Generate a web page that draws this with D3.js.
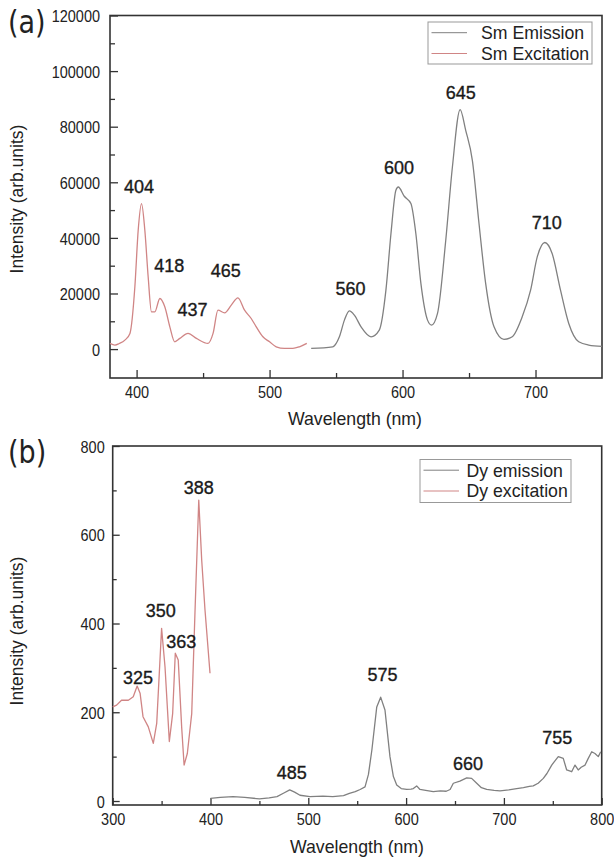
<!DOCTYPE html>
<html>
<head>
<meta charset="utf-8">
<script src="https://cdn.jsdelivr.net/npm/d3@7/dist/d3.min.js"></script>
<style>
body { margin: 0; background: #fff; }
text { font-family: "Liberation Sans", Arial, sans-serif; fill: #222; }
</style>
</head>
<body>
<svg id="chart" width="614" height="858"></svg>
<script>
// (a) Sm spectra
var smExWl = [380, 383.7, 387, 391.2, 395, 398.7, 401.2, 403.7, 406.2, 408.7, 411.2, 413.7, 417.5, 421.2, 425, 428.7,
              432.5, 438.7, 445, 453.7, 457.5, 461.2, 466.2, 471.2, 476.2, 481.2, 486.2, 490, 495, 500, 505, 511.2,
              517.5, 522.5, 528];
var smExI = [2050, 1440, 2000, 3230, 5640, 22400, 42760, 52350, 42760, 26000, 13400, 13400, 18200, 15200, 8000, 2620,
             3840, 5640, 3840, 2050, 5640, 14000, 13050, 15800, 18430, 14000, 11000, 8000, 4420, 2620, 830, 250,
             250, 830, 2050];
var smEmWl = [531.3, 547.5, 552.5, 556.3, 560, 563.8, 568.8, 576.3, 582.5, 587.5, 591.3, 595, 596.8, 601.3, 606.3, 610,
              613.8, 618.8, 621.8, 626.3, 632.5, 637.5, 643.3, 647.5, 652.5, 657.5, 662.5, 668.8, 676.3, 682.5, 690,
              696.3, 701.3, 707, 712.5, 718.8, 725, 732.5, 740, 750];
var smEmI = [250, 830, 4420, 10420, 13760, 12200, 8000, 4420, 6830, 21200, 41570, 57130, 58300, 54980, 52350, 41570,
             23610, 10420, 8620, 12830, 39170, 65500, 86130, 78690, 67910, 45170, 23610, 8000, 3480, 4420, 11600,
             21200, 33160, 38340, 34390, 21200, 9230, 2620, 1440, 1000];
var smPeakText = ["404", "418", "437", "465", "560", "600", "645", "710"];
var smPeakWl = [401.9, 424.6, 442.1, 467.1, 560.8, 597.3, 643.8, 708.5];
var smPeakI = [56170, 27780, 11970, 25760, 19400, 63130, 90080, 43370];
var smXTicks = [400, 500, 600, 700], smXMinor = [450, 550, 650];
var smYTicks = [0, 20000, 40000, 60000, 80000, 100000, 120000];
var smYMinor = [10000, 30000, 50000, 70000, 90000, 110000];

// (b) Dy spectra
var dyExWl = [300, 304, 309, 316, 321, 325, 328, 331, 336.4, 341.5, 345, 350, 353.5, 357.9, 361.3, 364, 367, 370.5,
              373, 376.3, 380.8, 384.2, 388, 391, 394.4, 399.5];
var dyExI = [212, 216, 227, 227, 235, 259, 243, 190, 167, 130, 175, 389, 302, 134, 197, 333, 318, 167,
             81, 107, 197, 430, 678, 543, 430, 288];
var dyEmWl = [400, 410, 423, 435, 450, 460, 468, 475, 481, 486, 491.5, 501.7, 515, 525, 536, 542, 548, 553, 558,
              561.5, 565, 570, 574, 578.4, 583.5, 587, 590.4, 595, 600.6, 605, 607.4, 610.8, 614.2, 620, 627.8, 635,
              641, 645, 648.3, 655, 662, 667, 672.2, 677, 682.4, 690, 696, 705, 713, 720, 726, 730, 735, 740.3,
              744, 748.9, 752, 755.6, 760.7, 764.2, 769.3, 772.7, 776, 779, 783, 786, 789.8, 793.1, 796.5, 799];
var dyEmI = [6, 8, 10, 8, 5, 7, 10, 18, 25, 20, 13, 10, 11, 10, 12, 17, 21, 26, 32,
             60, 115, 212, 234, 205, 100, 55, 36, 28, 26, 27, 28, 34, 26, 24, 21, 23,
             22, 26, 40, 45, 52, 51, 40, 30, 26, 24, 23, 25, 28, 30, 33, 34, 40, 51,
             62, 81, 90, 100, 96, 70, 66, 81, 70, 76, 81, 95, 111, 107, 100, 111];
var dyPeakText = ["325", "350", "363", "388", "485", "575", "660", "755"];
var dyPeakWl = [325.9, 349.2, 370.2, 387.9, 483, 575.9, 663.3, 754.5];
var dyPeakI = [263, 415, 344, 691, 49, 271, 70, 128];
var dyXTicks = [300, 400, 500, 600, 700, 800], dyXMinor = [350, 450, 550, 650, 750];
var dyYTicks = [0, 200, 400, 600, 800], dyYMinor = [100, 300, 500, 700];

var emColor = "#808080", exColor = "#d08585";

var svg = d3.select("#chart");

function drawPanel(p) {
    var x = d3.scaleLinear().domain(p.xDomain).range([p.left, p.right]);
    var y = d3.scaleLinear().domain(p.yDomain).range([p.bottom, p.top]);
    var g = svg.append("g");

    // ticks (pointing inward)
    var xAxis = g.append("g").attr("transform", "translate(0," + p.bottom + ")")
        .call(d3.axisBottom(x).tickValues(p.xTicks).tickSize(-p.major).tickSizeOuter(0).tickFormat(d3.format("d")));
    xAxis.selectAll("text")
        .attr("x", 0).attr("y", 0).attr("dy", null)
        .attr("transform", "translate(0,19.5) scale(1,1.18)")
        .style("font-size", "14.5px");
    g.append("g").attr("transform", "translate(0," + p.bottom + ")")
        .call(d3.axisBottom(x).tickValues(p.xMinor).tickSize(-p.minor).tickSizeOuter(0).tickFormat(""));

    var yAxis = g.append("g").attr("transform", "translate(" + p.left + ",0)")
        .call(d3.axisLeft(y).tickValues(p.yTicks).tickSize(-p.major).tickSizeOuter(0).tickFormat(d3.format("d")));
    yAxis.selectAll("text")
        .attr("x", 0).attr("y", 0).attr("dy", "0.36em")
        .attr("transform", "translate(" + (-p.labelGap) + ",0) scale(1,1.18)")
        .style("font-size", "14.5px");
    g.append("g").attr("transform", "translate(" + p.left + ",0)")
        .call(d3.axisLeft(y).tickValues(p.yMinor).tickSize(-p.minor).tickSizeOuter(0).tickFormat(""));

    g.selectAll(".domain").remove();
    g.selectAll(".tick line").attr("stroke", "#333").attr("stroke-width", 1.3);
    g.selectAll(".tick text").attr("fill", "#333");

    // frame
    g.append("rect")
        .attr("x", p.left).attr("y", p.top)
        .attr("width", p.right - p.left).attr("height", p.bottom - p.top)
        .attr("fill", "none").attr("stroke", "#333").attr("stroke-width", 1.6);

    // curves
    p.series.forEach(function(s) {
        var line = d3.line()
            .x(function(d) { return x(d[0]); })
            .y(function(d) { return y(d[1]); })
            .curve(s.curve);
        g.append("path")
            .datum(d3.zip(s.wl, s.val))
            .attr("d", line)
            .attr("fill", "none")
            .attr("stroke", s.color)
            .attr("stroke-width", 1.3)
            .attr("stroke-linejoin", "round");
    });

    // peak labels
    g.selectAll(".peak")
        .data(p.peakText)
        .enter().append("text")
        .attr("class", "peak")
        .attr("x", function(d, i) { return x(p.peakWl[i]); })
        .attr("y", function(d, i) { return y(p.peakI[i]); })
        .attr("text-anchor", "middle")
        .attr("stroke", "#1a1a1a").attr("stroke-width", 0.35)
        .style("fill", "#1a1a1a")
        .style("font-size", "18px")
        .text(function(d) { return d; });

    // legend
    var lg = g.append("g");
    lg.append("rect")
        .attr("x", p.legend.x).attr("y", p.legend.y)
        .attr("width", p.legend.w).attr("height", p.legend.h)
        .attr("fill", "#fff").attr("stroke", "#999").attr("stroke-width", 1);
    p.series.forEach(function(s, i) {
        var ly = p.legend.y + 10.7 + i * 20.8;
        lg.append("line")
            .attr("x1", p.legend.x + 3.5).attr("x2", p.legend.x + 39)
            .attr("y1", ly).attr("y2", ly)
            .attr("stroke", s.color).attr("stroke-width", 1);
        lg.append("text")
            .attr("x", p.legend.x + p.legend.textOff).attr("y", ly)
            .attr("dy", "0.36em")
            .style("font-size", "17.7px")
            .text(s.name);
    });

    // axis titles
    g.append("text")
        .attr("transform", "translate(23," + p.yTitleY + ") rotate(-90)")
        .attr("text-anchor", "middle")
        .style("font-size", "17.5px")
        .text("Intensity (arb.units)");
    g.append("text")
        .attr("x", p.xTitleX).attr("y", p.xTitleY)
        .attr("text-anchor", "middle")
        .style("font-size", "17.7px")
        .text("Wavelength (nm)");

    // panel tag
    g.append("text")
        .attr("transform", "translate(8," + p.tagY + ") scale(1,1.15)")
        .style("font-family", "'DejaVu Sans', sans-serif")
        .style("font-size", "27px")
        .text(p.tag);
}

drawPanel({
    tag: "(a)", tagY: 33,
    left: 110, right: 602, top: 15.5, bottom: 378,
    xDomain: [380, 750], yDomain: [-10400, 120000],
    xTicks: smXTicks, xMinor: smXMinor, yTicks: smYTicks, yMinor: smYMinor,
    major: 8, minor: 5, labelGap: 10,
    series: [
        { name: "Sm Emission", wl: smEmWl, val: smEmI, color: emColor, curve: d3.curveMonotoneX },
        { name: "Sm Excitation", wl: smExWl, val: smExI, color: exColor, curve: d3.curveMonotoneX }
    ],
    peakText: smPeakText, peakWl: smPeakWl, peakI: smPeakI,
    legend: { x: 428, y: 22, w: 164, h: 42, textOff: 53 },
    yTitleY: 199, xTitleX: 355, xTitleY: 425
});

drawPanel({
    tag: "(b)", tagY: 463,
    left: 112.7, right: 601.7, top: 446, bottom: 805,
    xDomain: [300, 800], yDomain: [-9, 800],
    xTicks: dyXTicks, xMinor: dyXMinor, yTicks: dyYTicks, yMinor: dyYMinor,
    major: 7, minor: 4, labelGap: 8,
    series: [
        { name: "Dy emission", wl: dyEmWl, val: dyEmI, color: emColor, curve: d3.curveLinear },
        { name: "Dy excitation", wl: dyExWl, val: dyExI, color: exColor, curve: d3.curveLinear }
    ],
    peakText: dyPeakText, peakWl: dyPeakWl, peakI: dyPeakI,
    legend: { x: 420, y: 459.5, w: 151, h: 43, textOff: 46.5 },
    yTitleY: 631, xTitleX: 357, xTitleY: 853
});
</script>
</body>
</html>
